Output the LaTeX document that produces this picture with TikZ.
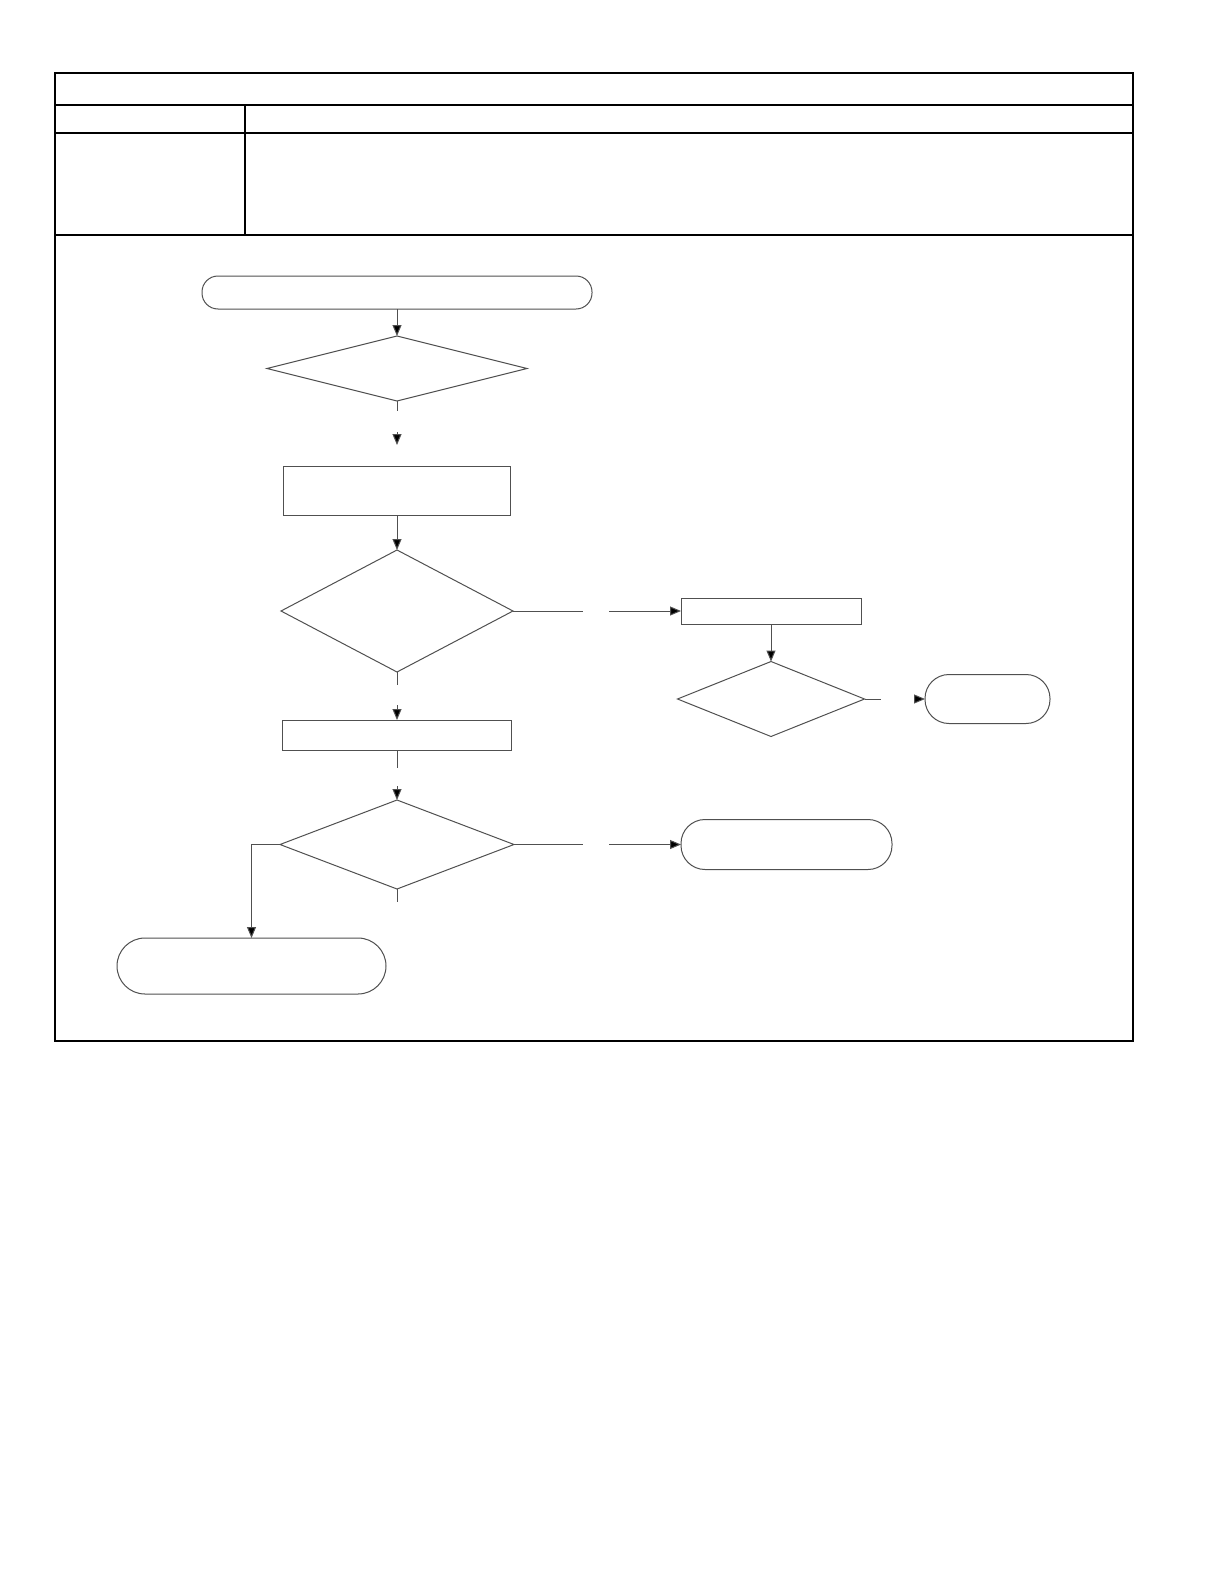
\documentclass[tikz,border=0pt]{standalone}
\usetikzlibrary{shapes.geometric,arrows.meta}
\definecolor{linegray}{HTML}{505050}
\begin{document}
\begin{tikzpicture}[x=0.5pt,y=-0.5pt,
  frame/.style={draw=black,line width=1pt},
  conn/.style={draw=linegray,line width=0.5pt},
  arr/.style={conn,-{Triangle[length=5.5pt,width=4.5pt,fill=black]}},
  term/.style={draw=linegray,line width=0.5pt,rounded corners=#1,inner sep=0pt,outer sep=0pt,shape=rectangle},
  proc/.style={draw=linegray,line width=0.5pt,inner sep=0pt,outer sep=0pt,shape=rectangle},
  dia/.style={draw=linegray,line width=0.5pt,diamond,inner sep=0pt,outer sep=0pt}]
\useasboundingbox (0,0) rectangle (1224,1584);
\fill[white] (0,0) rectangle (1224,1584);
% table frame
\draw[frame] (55,73) rectangle (1133,1041);
\draw[frame] (55,105) -- (1133,105);
\draw[frame] (55,133) -- (1133,133);
\draw[frame] (55,235) -- (1133,235);
\draw[frame] (245,105) -- (245,235);
% nodes
\node[term=8pt,minimum width=195pt,minimum height=16.5pt] (T1) at (397,292.5) {};
\node[dia,minimum width=130pt,minimum height=32.5pt] (D1) at (397,368.5) {};
\node[proc,minimum width=113.5pt,minimum height=24.5pt] (B2) at (397,490.5) {};
\node[dia,minimum width=116pt,minimum height=61pt] (D2) at (397,611) {};
\node[proc,minimum width=90pt,minimum height=13pt] (B3) at (771,611) {};
\node[dia,minimum width=93.5pt,minimum height=37.5pt] (D3) at (771,699) {};
\node[term=12pt,minimum width=62.5pt,minimum height=24.5pt] (T4) at (987.5,699) {};
\node[proc,minimum width=114.5pt,minimum height=15pt] (B5) at (397,735) {};
\node[dia,minimum width=117pt,minimum height=44.5pt] (D4) at (397,844.5) {};
\node[term=12pt,minimum width=105.5pt,minimum height=25pt] (T6) at (786.5,844.5) {};
\node[term=14pt,minimum width=134.5pt,minimum height=28pt] (T7) at (251.5,966) {};
% gap coordinates
\coordinate (a1) at (397,411);
\coordinate (a2) at (397,432);
\coordinate (a3) at (397,445);
\coordinate (b1) at (583,611);
\coordinate (b2) at (609,611);
\coordinate (c1) at (881,699);
\coordinate (c2) at (914,699);
\coordinate (d1) at (397,685);
\coordinate (d2) at (397,705);
\coordinate (e1) at (397,768);
\coordinate (e2) at (397,786);
\coordinate (f1) at (583,844.5);
\coordinate (f2) at (609,844.5);
\coordinate (g1) at (397,902);
\coordinate (h1) at (251.5,844.5);
% connectors
\draw[arr] (T1.south) -- (D1.north);
\draw[conn] (D1.south) -- (a1);
\draw[arr] (a2) -- (a3);
\draw[arr] (B2.south) -- (D2.north);
\draw[conn] (D2.east) -- (b1);
\draw[arr] (b2) -- (B3.west);
\draw[arr] (B3.south) -- (D3.north);
\draw[conn] (D3.east) -- (c1);
\draw[arr] (c2) -- (T4.west);
\draw[conn] (D2.south) -- (d1);
\draw[arr] (d2) -- (B5.north);
\draw[conn] (B5.south) -- (e1);
\draw[arr] (e2) -- (D4.north);
\draw[conn] (D4.east) -- (f1);
\draw[arr] (f2) -- (T6.west);
\draw[conn] (D4.south) -- (g1);
\draw[arr] (D4.west) -- (h1) -- (T7.north);
\end{tikzpicture}
\end{document}
